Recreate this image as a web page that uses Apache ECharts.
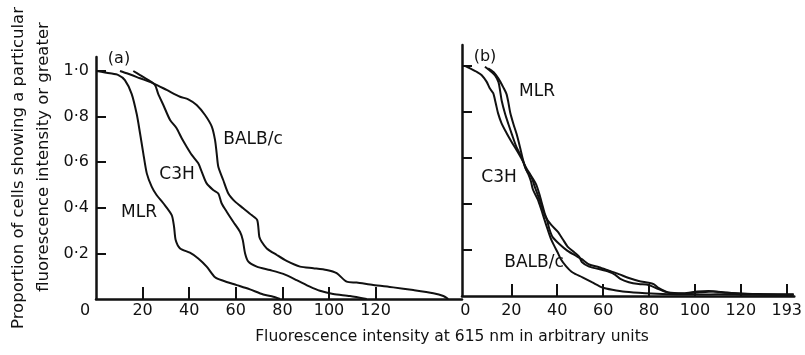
<!DOCTYPE html>
<html>
<head>
<meta charset="utf-8">
<script src="https://cdn.jsdelivr.net/npm/echarts@6/dist/echarts.min.js"></script>
<style>html,body{margin:0;padding:0;background:#fff;}#c{width:805px;height:355px;}</style>
</head>
<body>
<div id="c"></div>
<script>
// ---- data ----
const yTicks = [0.2, 0.4, 0.6, 0.8, 1.0];
const xTicksA = [20, 40, 60, 80, 100, 120];
const xLabelsA = [0, 20, 40, 60, 80, 100, 120];
const xTicksB = [20, 40, 60, 80, 100, 120, 140];
const xLabelsB = [0, 20, 40, 60, 80, 100, 120, 140];
const xLabelTextB = {0:'0',20:'20',40:'40',60:'60',80:'80',100:'100',120:'120',140:'193'};

// panel (a)
const mlrA = [[0.3,1.0],[6,0.99],[9.6,0.982],[12.4,0.96],[15.3,0.9],[17.5,0.81],[18.9,0.727],[20.3,0.639],[21.8,0.551],[23.9,0.493],[26,0.456],[28.9,0.42],[32.5,0.368],[33.5,0.317],[34.2,0.259],[36.1,0.222],[40.3,0.203],[43.9,0.178],[47.5,0.142],[51.1,0.095],[54.6,0.08],[60.4,0.061],[66.1,0.042],[71.8,0.02],[76.1,0.01],[79,0.0]];
const c3hA = [[16,1.0],[18.9,0.982],[22.5,0.96],[25.3,0.939],[26.7,0.9],[28.9,0.851],[31.8,0.785],[34.6,0.749],[36.8,0.705],[38.9,0.668],[41.1,0.632],[43.9,0.595],[45.4,0.558],[47.5,0.507],[50.3,0.478],[52.5,0.463],[53.9,0.42],[56.1,0.383],[58.9,0.339],[61.8,0.295],[63,0.259],[64,0.2],[65.4,0.164],[69,0.142],[74.7,0.127],[80.4,0.11],[86.1,0.083],[91.8,0.054],[96.1,0.036],[101.8,0.022],[109,0.013],[116.2,0.0]];
const balbA = [[10.3,1.0],[13.2,0.99],[18.9,0.968],[24.6,0.946],[30.3,0.917],[36.1,0.887],[39.6,0.876],[43.2,0.851],[46.8,0.807],[49.7,0.756],[51.1,0.697],[51.8,0.639],[52.5,0.58],[54.6,0.522],[56.8,0.463],[59.7,0.427],[63.2,0.398],[66.8,0.368],[69.2,0.346],[70.1,0.273],[71.1,0.251],[73.3,0.222],[77.6,0.193],[81.8,0.167],[87.6,0.142],[93.3,0.135],[99,0.127],[103.3,0.113],[107.6,0.076],[111.9,0.072],[119,0.061],[127.6,0.051],[136.2,0.039],[144.8,0.025],[149.1,0.013],[151.2,0.0]];

// panel (b)
const c3hB = [[0,1.0],[2,0.99],[4.9,0.975],[7,0.961],[9.2,0.932],[10.6,0.903],[12.1,0.882],[13.2,0.838],[14.2,0.795],[15.7,0.752],[17.9,0.709],[20,0.672],[22.2,0.636],[24.3,0.6],[26.5,0.557],[28.7,0.521],[30.8,0.485],[32.3,0.44],[33.4,0.4],[34.5,0.36],[35.5,0.333],[36.6,0.29],[38,0.256],[40.9,0.226],[44.5,0.196],[48.1,0.175],[50.7,0.16],[53.9,0.137],[58.2,0.125],[62.5,0.11],[66.8,0.095],[71.2,0.078],[75.5,0.065],[79.8,0.058],[82,0.052],[84.1,0.035],[88.5,0.015],[95,0.012],[101,0.02],[106,0.022],[112,0.016],[120,0.01],[130,0.008],[143,0.006]];
const balbB = [[8.5,0.997],[11.4,0.974],[12.9,0.959],[14.4,0.93],[15.1,0.893],[15.8,0.849],[17.3,0.791],[18.7,0.748],[20.2,0.704],[22.3,0.646],[24.5,0.603],[26,0.559],[27.4,0.53],[28.5,0.5],[29.4,0.463],[31.5,0.42],[33,0.377],[34.4,0.333],[35.8,0.29],[37.3,0.247],[38.7,0.218],[40.2,0.189],[41.6,0.16],[43.8,0.13],[46.7,0.102],[51,0.081],[55.3,0.059],[59.7,0.037],[64,0.027],[69.7,0.018],[78.4,0.012],[88.5,0.008],[100,0.006],[110,0.008],[125,0.005],[143,0.005]];
const mlrB = [[9.9,0.99],[12.2,0.974],[14.4,0.945],[16.5,0.907],[17.9,0.878],[18.7,0.842],[19.5,0.798],[20.9,0.748],[22.3,0.704],[23.8,0.646],[25.2,0.588],[26.7,0.545],[28.8,0.516],[30.3,0.472],[31.5,0.44],[32.6,0.41],[33.7,0.377],[35.1,0.34],[37.3,0.31],[40.2,0.28],[42.4,0.247],[44.5,0.215],[47.4,0.19],[49.6,0.17],[50.7,0.148],[53.9,0.128],[58.2,0.117],[62.5,0.105],[65.3,0.092],[67.5,0.074],[71.2,0.06],[75.5,0.052],[79.8,0.048],[84.1,0.03],[88.5,0.014],[96,0.01],[102,0.016],[108,0.02],[114,0.014],[125,0.009],[143,0.007]];

// ---- chart ----
const FONT = '"DejaVu Sans", sans-serif';
const INK = '#111';
const axisLine = {show: true, onZero: false, lineStyle: {color: INK, width: 2.5}};

function xAxis(idx, min, max, ticks, labels, fmt, margin) {
  return {
    type: 'value', gridIndex: idx, min: min, max: max,
    axisLine: axisLine,
    splitLine: {show: false},
    axisTick: {show: true, inside: true, length: 12, lineStyle: {color: INK, width: 2}, customValues: ticks},
    axisLabel: {show: true, color: INK, fontFamily: FONT, fontSize: 16, margin: margin,
      customValues: labels, formatter: fmt,
      rich: {z: {fontFamily: FONT, fontSize: 16, color: INK, padding: [0, 22, 0, 0]}}}
  };
}
function yAxis(idx, max, showLabels) {
  return {
    type: 'value', gridIndex: idx, min: 0, max: max,
    axisLine: axisLine,
    splitLine: {show: false},
    axisTick: {show: true, inside: true, length: 10, lineStyle: {color: INK, width: 2}, customValues: yTicks},
    axisLabel: {show: showLabels, color: INK, fontFamily: FONT, fontSize: 16, margin: 7,
      customValues: yTicks, formatter: v => v.toFixed(1).replace('.', '·')}
  };
}
function line(data, xi, yi) {
  return {type: 'line', data: data, xAxisIndex: xi, yAxisIndex: yi, showSymbol: false, symbol: 'none',
    smooth: 0.25, lineStyle: {color: INK, width: 2}, silent: true, animation: false};
}
function txt(s, x, y, size, rot) {
  return {type: 'text', x: x, y: y, rotation: rot || 0, silent: true,
    style: {text: s, font: size + 'px ' + FONT, fill: INK, textAlign: 'center', textVerticalAlign: 'middle', align: 'center', verticalAlign: 'middle'}};
}

const chart = echarts.init(document.getElementById('c'), null, {renderer: 'canvas'});
chart.setOption({
  backgroundColor: '#fff',
  animation: false,
  grid: [
    {left: 96, top: 57, width: 366, height: 242, containLabel: false},
    {left: 462, top: 45, width: 335, height: 251, containLabel: false}
  ],
  xAxis: [
    xAxis(0, 0, 157.1, xTicksA, xLabelsA, v => v === 0 ? '{z|0}' : String(v), 4),
    xAxis(1, -1.5, 143.3, xTicksB, xLabelsB, v => xLabelTextB[v] || '', 7)
  ],
  yAxis: [yAxis(0, 242 / 228, true), yAxis(1, 251 / 230, false)],
  series: [
    line(mlrA, 0, 0), line(c3hA, 0, 0), line(balbA, 0, 0),
    line(c3hB, 1, 1), line(balbB, 1, 1), line(mlrB, 1, 1)
  ],
  graphic: [
    txt('(a)', 119, 59, 16), txt('(b)', 485, 57, 16),
    txt('BALB/c', 253, 140, 17), txt('C3H', 177, 175, 17), txt('MLR', 139, 213, 17),
    txt('MLR', 537, 92, 17), txt('C3H', 499, 178, 17), txt('BALB/c', 534, 263, 17),
    txt('Proportion of cells showing a particular', 19, 168, 16.5, Math.PI / 2),
    txt('fluorescence intensity or greater', 44, 157, 16.5, Math.PI / 2),
    txt('Fluorescence intensity at 615 nm in arbitrary units', 452, 337, 15.5)
  ]
});
</script>
</body>
</html>
